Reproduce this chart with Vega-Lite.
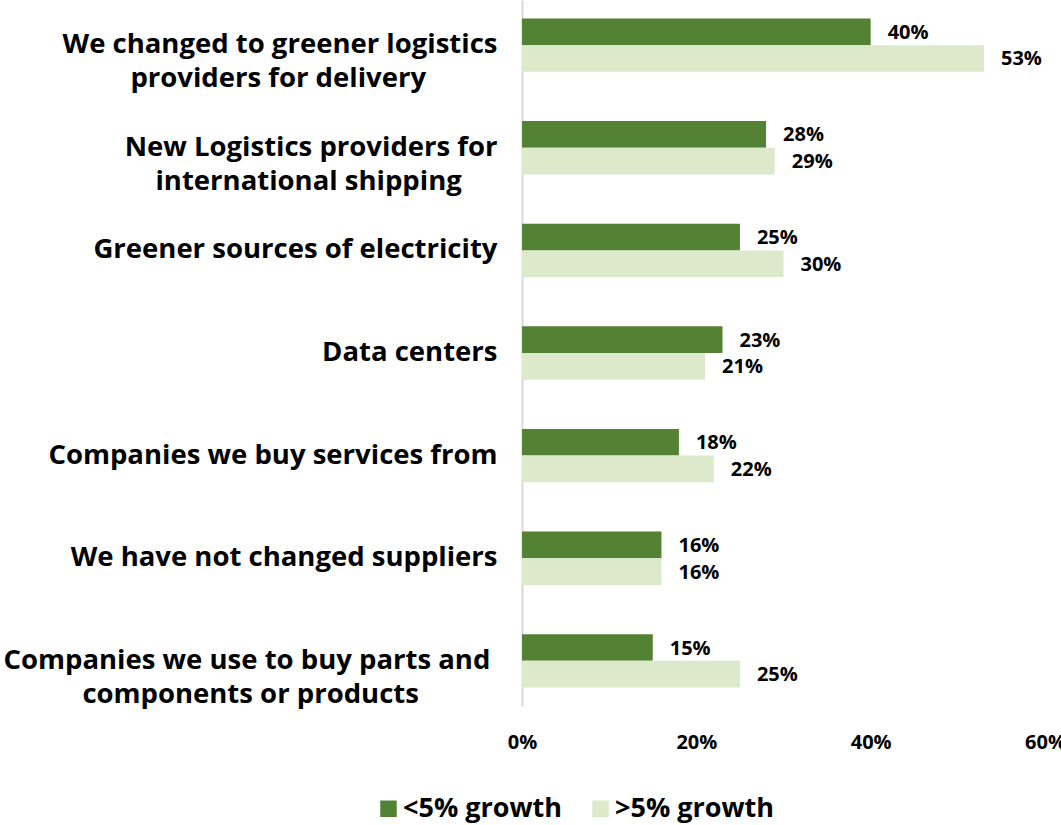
{
  "$schema": "https://vega.github.io/schema/vega-lite/v6.json",
  "autosize": {"type": "none"},
  "padding": {"left": 522, "top": 0, "right": 16, "bottom": 119},
  "width": 523,
  "height": 706,
  "background": "white",
  "config": {"view": {"stroke": null}, "font": "Open Sans"},
  "data": {"values": [
    {"category": "We changed to greener logistics providers for delivery", "series": "<5% growth", "value": 0.40},
    {"category": "We changed to greener logistics providers for delivery", "series": ">5% growth", "value": 0.53},
    {"category": "New Logistics providers for international shipping", "series": "<5% growth", "value": 0.28},
    {"category": "New Logistics providers for international shipping", "series": ">5% growth", "value": 0.29},
    {"category": "Greener sources of electricity", "series": "<5% growth", "value": 0.25},
    {"category": "Greener sources of electricity", "series": ">5% growth", "value": 0.30},
    {"category": "Data centers", "series": "<5% growth", "value": 0.23},
    {"category": "Data centers", "series": ">5% growth", "value": 0.21},
    {"category": "Companies we buy services from", "series": "<5% growth", "value": 0.18},
    {"category": "Companies we buy services from", "series": ">5% growth", "value": 0.22},
    {"category": "We have not changed suppliers", "series": "<5% growth", "value": 0.16},
    {"category": "We have not changed suppliers", "series": ">5% growth", "value": 0.16},
    {"category": "Companies we use to buy parts and components or products", "series": "<5% growth", "value": 0.15},
    {"category": "Companies we use to buy parts and components or products", "series": ">5% growth", "value": 0.25}
  ]},
  "encoding": {
    "y": {
      "field": "category",
      "type": "nominal",
      "sort": null,
      "scale": {"paddingInner": 0.48, "paddingOuter": 0.18},
      "axis": {
        "title": null,
        "ticks": false,
        "labelPadding": 25,
        "labelFontSize": 27.5,
        "labelFontWeight": "bold",
        "labelColor": "black",
        "labelLimit": 600,
        "labelLineHeight": 34,
        "labelBaseline": "middle",
        "domainColor": "#d9d9d9",
        "domainWidth": 2,
        "labelExpr": "datum.value == 'We changed to greener logistics providers for delivery' ? ['We changed to greener logistics', 'providers for delivery\u00a0\u00a0\u00a0\u00a0\u00a0\u00a0\u00a0\u00a0\u00a0\u00a0\u200b'] : datum.value == 'New Logistics providers for international shipping' ? ['New Logistics providers for', 'international shipping\u00a0\u00a0\u00a0\u00a0\u00a0\u200b'] : datum.value == 'Companies we use to buy parts and components or products' ? ['Companies we use to buy parts and\u00a0\u200b', 'components or products\u00a0\u00a0\u00a0\u00a0\u00a0\u00a0\u00a0\u00a0\u00a0\u00a0\u00a0\u200b'] : datum.label"
      }
    },
    "yOffset": {"field": "series", "sort": ["<5% growth", ">5% growth"], "scale": {"paddingInner": 0, "paddingOuter": 0}},
    "x": {
      "field": "value",
      "type": "quantitative",
      "scale": {"domain": [0, 0.6]},
      "axis": {
        "title": null,
        "values": [0, 0.2, 0.4, 0.6],
        "format": ".0%",
        "grid": false,
        "domain": false,
        "ticks": false,
        "labelPadding": 26,
        "labelFontSize": 20,
        "labelFontWeight": "bold",
        "labelColor": "black",
        "labelFlush": false
      }
    }
  },
  "layer": [
    {
      "mark": {"type": "bar"},
      "encoding": {
        "color": {
          "field": "series",
          "type": "nominal",
          "scale": {"domain": ["<5% growth", ">5% growth"], "range": ["#548235", "#DDE9CB"]},
          "legend": {
            "orient": "none",
            "legendX": -147,
            "legendY": 795,
            "direction": "horizontal",
            "title": null,
            "symbolType": "square",
            "symbolSize": 272,
            "symbolStrokeWidth": 0,
            "labelFontSize": 27,
            "labelFontWeight": "bold",
            "labelColor": "black",
            "labelOffset": 1,
            "labelLimit": 400,
            "columnPadding": 24
          }
        }
      }
    },
    {
      "mark": {"type": "text", "align": "left", "baseline": "middle", "dx": 17, "dy": 1, "fontSize": 20, "fontWeight": "bold", "color": "black"},
      "encoding": {"text": {"field": "value", "type": "quantitative", "format": ".0%"}}
    }
  ]
}
